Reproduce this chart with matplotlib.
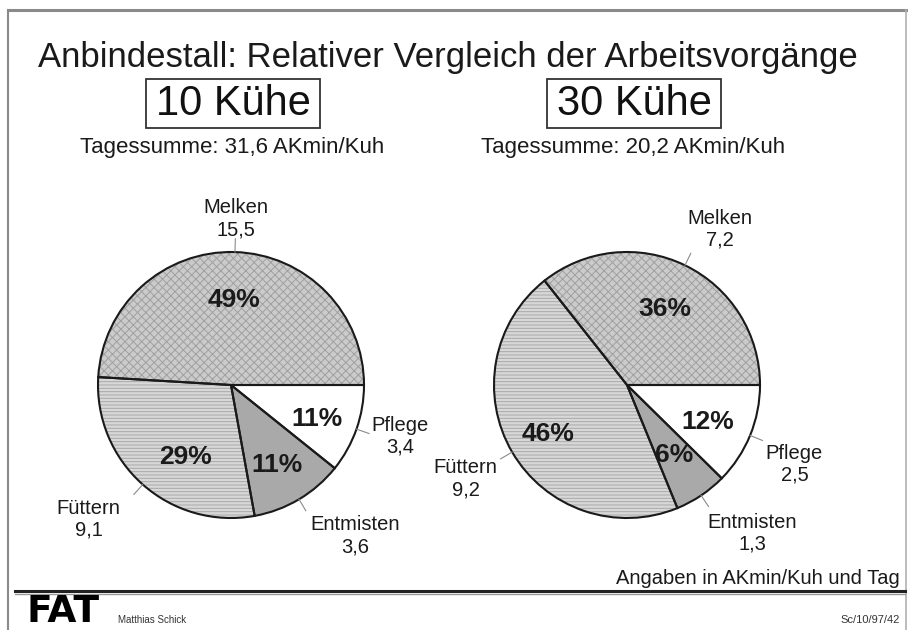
import numpy as np
import matplotlib
matplotlib.use("Agg")
import matplotlib.pyplot as plt
from matplotlib.patches import Rectangle

plt.rcParams['font.family'] = ['Liberation Sans', 'DejaVu Sans']
plt.rcParams['hatch.linewidth'] = 0.7

# ---- data ----
title = "Anbindestall: Relativer Vergleich der Arbeitsvorgänge"
categories = ["Melken", "Füttern", "Entmisten", "Pflege"]
herd_labels = ["10 Kühe", "30 Kühe"]
daily_totals = ["31,6", "20,2"]
values_10 = [15.5, 9.1, 3.6, 3.4]
values_30 = [7.2, 9.2, 1.3, 2.5]
footnote = "Angaben in AKmin/Kuh und Tag"
author = "Matthias Schick"
ref_code = "Sc/10/97/42"

# ---- styles ----
face = ['#cbcbcb', '#d8d8d8', '#a9a9a9', '#ffffff']
hatch = ['xxxx', '-----', '', '']
hatch_col = ['#a0a0a0', '#a8a8a8', '#a9a9a9', '#ffffff']
# label nudges in pixels (dx right, dy down) per pie
label_nudge = [[(0, 0), (0, 10), (-6, 8), (-16, -4)],
               [(-12, -6), (14, 10), (-12, 10), (-15, 16)]]
pct_nudge = [[(0, 5), (15, 4), (0, 2), (1, 4)],
             [(-2, 5), (-1, 3), (-3, -5), (-3, 3)]]

W, H = 908, 630
fig = plt.figure(figsize=(W / 100, H / 100), dpi=100)
fig.patch.set_facecolor('white')

bg = fig.add_axes([0, 0, 1, 1])
bg.set_xlim(0, W)
bg.set_ylim(H, 0)
bg.axis('off')

# frame
bg.plot([8, 906], [10, 10], color='#8a8a8a', lw=2.2)
bg.plot([8, 8], [10, 630], color='#8a8a8a', lw=1.5)
bg.plot([906, 906], [10, 630], color='#b0b0b0', lw=1.2)

bg.text(448, 58, title, fontsize=25, ha='center', va='center', color='#1a1a1a')

box_centers = [233, 634]
for cx, lab, tot in zip(box_centers, herd_labels, daily_totals):
    bg.add_patch(Rectangle((cx - 87, 79), 174, 49, fill=False, edgecolor='#333333', lw=1.3))
    bg.text(cx, 104, lab, fontsize=30, ha='center', va='center', color='#111111')
    bg.text(cx - 1, 147, f"Tagessumme: {tot} AKmin/Kuh", fontsize=16,
            ha='center', va='center', color='#1a1a1a')

# footer
bg.text(900, 578, footnote, fontsize=14.5, ha='right', va='center', color='#1a1a1a')
bg.plot([15, 905], [591, 591], color='#222222', lw=2.2)
bg.plot([15, 905], [594, 594], color='#9a9a9a', lw=1.0)
bg.text(26, 612, "FAT", fontsize=27, fontweight='heavy', ha='left', va='center',
        color='black', family='DejaVu Sans')
bg.text(118, 620, author, fontsize=7, ha='left', va='center', color='#333333')
bg.text(900, 620, ref_code, fontsize=8, ha='right', va='center', color='#333333')

R = 133.0
K = 1.6
centers = [(231, 385), (627, 385)]
for pi, ((cx, cy), vals) in enumerate(zip(centers, [values_10, values_30])):
    x0 = (cx - R * K) / W
    y0 = (H - cy - R * K) / H
    ax = fig.add_axes([x0, y0, 2 * R * K / W, 2 * R * K / H])
    labels = [f"{c}\n{str(v).replace('.', ',')}" for c, v in zip(categories, vals)]
    wedges, texts, autotexts = ax.pie(
        vals, labels=labels, startangle=0, counterclock=True,
        labeldistance=1.25, autopct='%.0f%%', pctdistance=0.68,
        colors=face, wedgeprops=dict(linewidth=0),
        textprops=dict(fontsize=14.5, color='#1a1a1a'))
    for w, h, hc in zip(wedges, hatch, hatch_col):
        w.set_hatch(h)
        w.set_edgecolor(hc)
    # outlines
    ax.pie(vals, startangle=0, counterclock=True, colors=['none'] * len(vals),
           wedgeprops=dict(linewidth=1.5, edgecolor='#1a1a1a', fill=False))
    for w, t, (dx, dy) in zip(wedges, texts, label_nudge[pi]):
        mid = np.deg2rad((w.theta1 + w.theta2) / 2)
        t.set_multialignment('center')
        if abs(np.cos(mid)) < 0.3:
            t.set_ha('center')
        px, py = t.get_position()
        t.set_position((px + dx / R, py - dy / R))
        ax.plot([np.cos(mid) * 1.0, np.cos(mid) * 1.1],
                [np.sin(mid) * 1.0, np.sin(mid) * 1.1], color='#8a8a8a', lw=0.8)
    for a, (dx, dy) in zip(autotexts, pct_nudge[pi]):
        a.set_fontsize(19)
        a.set_fontweight('bold')
        a.set_color('#1a1a1a')
        px, py = a.get_position()
        a.set_position((px + dx / R, py - dy / R))
    ax.set_xlim(-K, K)
    ax.set_ylim(-K, K)
    ax.set_aspect('equal')
    ax.axis('off')

fig.savefig('out.png', dpi=100, facecolor='white')
